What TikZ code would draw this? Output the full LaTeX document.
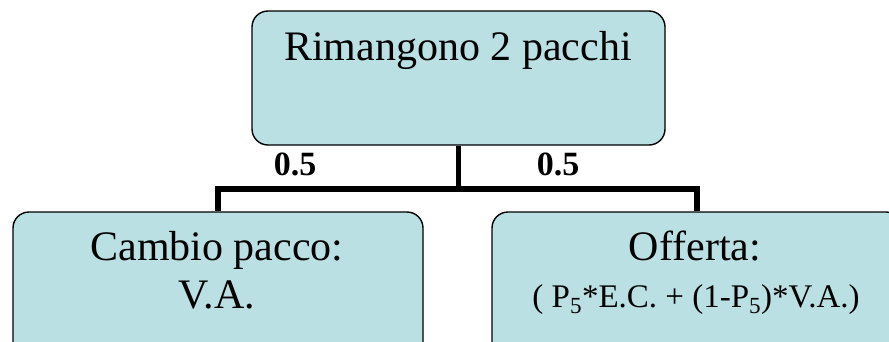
\documentclass[tikz,border=0pt]{standalone}
\usepackage{fontspec}
\setmainfont{Liberation Serif}
\definecolor{boxfill}{RGB}{186,224,228}
\begin{document}
\begin{tikzpicture}[x=1pt,y=-1pt,
  box/.style={draw=black,line width=1.4pt,fill=boxfill,rounded corners=16pt,inner sep=0pt},
  conn/.style={draw=black,line width=5.5pt},
  big/.style={font=\fontsize{42}{48}\selectfont,inner sep=0pt,anchor=base},
  small/.style={font=\fontsize{33}{38}\selectfont,inner sep=0pt,anchor=base},
  prob/.style={font=\fontsize{34}{38}\selectfont\bfseries,inner sep=0pt,anchor=base}]
\clip (0,0) rectangle (889,341);
\fill[white] (0,0) rectangle (889,341);
\node[box,minimum width=413pt,minimum height=134pt] (top) at (458.5,78) {};
\node[box,minimum width=410pt,minimum height=156pt] (left) at (218,290) {};
\node[box,minimum width=410pt,minimum height=156pt] (right) at (697,290) {};
\coordinate (j) at (top.south |- 0,189);
\draw[conn] (top.south) -- (j);
\draw[conn] (left.north) |- (j) -| (right.north);
\node[big] (t1) at (458,60) {Rimangono 2 pacchi};
\node[big] (l1) at (217,260) {Cambio pacco:};
\node[big] (l2) at (217,308) {V.A.};
\node[big] (r1) at (695,260) {Offerta:};
\node[small] (r2) at (696,307) {( P\textsubscript{5}*E.C. + (1-P\textsubscript{5})*V.A.)};
\node[prob] (p1) at (295,175) {0.5};
\node[prob] (p2) at (558,175) {0.5};
\end{tikzpicture}
\end{document}
